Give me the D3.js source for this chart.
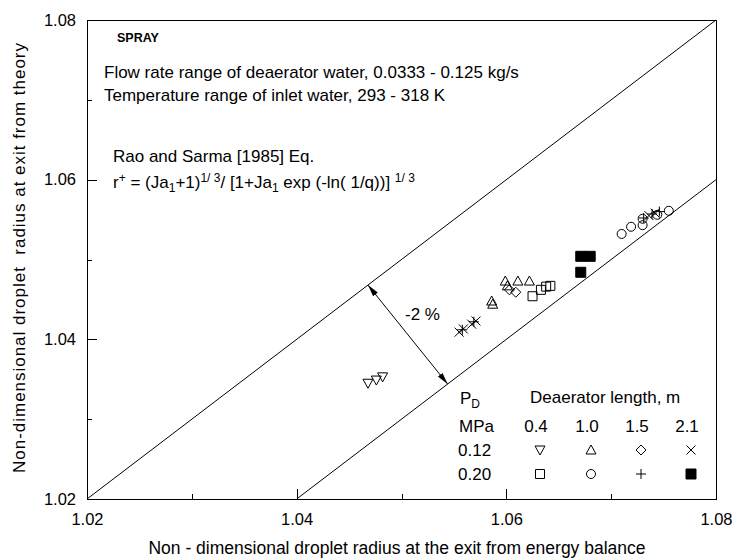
<!DOCTYPE html>
<html><head><meta charset="utf-8">
<script src="https://cdn.jsdelivr.net/npm/d3@7"></script>
<style>
body{margin:0;background:#fff}
svg{display:block}
text{font-family:"Liberation Sans",Arial,sans-serif;fill:#000}
</style></head><body>
<svg id="c" width="735" height="560"></svg>
<script>
// ---------- data ----------
const xTicks = [1.02, 1.04, 1.06, 1.08];
const yTicks = [1.02, 1.04, 1.06, 1.08];
const minorTicks = [1.03, 1.05, 1.07];
const lengths = ["0.4", "1.0", "1.5", "2.1"];
const pressures = ["0.12", "0.20"];
const markersP012 = ["triDown", "triUp", "diamond", "cross"];
const markersP020 = ["square", "circle", "plus", "filledSquare"];

// P = 0.12 MPa
const p012_L04 = [[1.0468, 1.0345], [1.0476, 1.0349], [1.0482, 1.0353]];
const p012_L10 = [[1.0586, 1.0448], [1.0587, 1.0444], [1.0599, 1.0473], [1.0601, 1.0467], [1.0611, 1.0473], [1.0622, 1.0473]];
const p012_L15 = [[1.0603, 1.0462], [1.0609, 1.0459]];
const p012_L21 = [[1.0555, 1.0409], [1.0559, 1.0413], [1.0567, 1.0419], [1.0571, 1.0423], [1.0736, 1.0555], [1.0742, 1.0558]];
// P = 0.20 MPa
const p020_L04 = [[1.0625, 1.0454], [1.0633, 1.0462], [1.0638, 1.0466], [1.0642, 1.0467]];
const p020_L10 = [[1.0710, 1.0532], [1.0719, 1.0541], [1.0730, 1.0543], [1.0730, 1.0551], [1.0744, 1.0556], [1.0755, 1.0561]];
const p020_L15 = [[1.0558, 1.0412], [1.0569, 1.0422], [1.0731, 1.0552], [1.0739, 1.0557], [1.0746, 1.0560]];
const p020_L21 = [[1.0671, 1.0504], [1.0680, 1.0504], [1.0671, 1.0484]];

const upperLine = [[1.02, 1.02], [1.08, 1.08]];      // y = x
const lowerLine = [[1.04, 1.02], [1.08, 1.06]];      // y = x - 0.02
const arrowPts = [[1.0468, 1.0468], [1.0544, 1.0344]];

// ---------- layout ----------
const svg = d3.select("#c");
const L = 87, R = 716, T = 20, B = 499;
const x = d3.scaleLinear().domain([1.02, 1.08]).range([L, R]);
const y = d3.scaleLinear().domain([1.02, 1.08]).range([B, T]);
const FS = 17;

// axes (ticks inside)
const fmt = d3.format(".2f");
const gx = svg.append("g").attr("transform", `translate(0,${B})`)
  .call(d3.axisBottom(x).tickValues(xTicks).tickFormat(fmt).tickSize(-10).tickPadding(13));
const gxm = svg.append("g").attr("transform", `translate(0,${B})`)
  .call(d3.axisBottom(x).tickValues(minorTicks).tickFormat("").tickSize(-5));
const gy = svg.append("g").attr("transform", `translate(${L},0)`)
  .call(d3.axisLeft(y).tickValues(yTicks).tickFormat(fmt).tickSize(-10).tickPadding(11));
const gym = svg.append("g").attr("transform", `translate(${L},0)`)
  .call(d3.axisLeft(y).tickValues(minorTicks).tickFormat("").tickSize(-5));
[gx, gxm, gy, gym].forEach(g => {
  g.select(".domain").remove();
  g.selectAll("line").attr("stroke", "#000").attr("shape-rendering", "crispEdges");
  g.selectAll("text").attr("font-size", 16.5).attr("font-family", '"Liberation Sans",Arial,sans-serif').attr("fill", "#000");
});
gx.selectAll("text").attr("dy", null).attr("y", 26);

// frame
svg.append("rect").attr("x", L + 0.5).attr("y", T + 0.5).attr("width", R - L).attr("height", B - T)
  .attr("fill", "none").attr("stroke", "#000").attr("stroke-width", 1).attr("shape-rendering", "crispEdges");

// reference lines
const line = d3.line().x(d => x(d[0])).y(d => y(d[1]));
[upperLine, lowerLine].forEach(l => svg.append("path").attr("d", line(l)).attr("fill", "none").attr("stroke", "#000").attr("stroke-width", 1));

// arrow
const defs = svg.append("defs");
defs.append("marker").attr("id", "ah").attr("viewBox", "0 0 12 6").attr("refX", 12).attr("refY", 3)
  .attr("markerWidth", 12).attr("markerHeight", 6).attr("markerUnits", "userSpaceOnUse").attr("orient", "auto-start-reverse")
  .append("path").attr("d", "M0,0 L12,3 L0,6 Z").attr("fill", "#000");
svg.append("path").attr("d", line(arrowPts)).attr("stroke", "#000").attr("stroke-width", 1)
  .attr("marker-start", "url(#ah)").attr("marker-end", "url(#ah)");
svg.append("text").attr("x", 405).attr("y", 320).attr("font-size", FS).text("-2 %");

// markers
function markerPath(type) {
  switch (type) {
    case "triDown": return "M-5,-4 L5,-4 L0,5 Z";
    case "triUp": return "M-5,4 L5,4 L0,-5 Z";
    case "diamond": return "M0,-5 L5,0 L0,5 L-5,0 Z";
    case "cross": return "M-4.5,-4.5 L4.5,4.5 M4.5,-4.5 L-4.5,4.5";
    case "square": return "M-4.5,-4.5 H4.5 V4.5 H-4.5 Z";
    case "circle": return "M4.5,0 A4.5,4.5 0 1,1 -4.5,0 A4.5,4.5 0 1,1 4.5,0 Z";
    case "plus": return "M-5,0 H5 M0,-5 V5";
    case "filledSquare": return "M-5,-5 H5 V5 H-5 Z";
  }
}
function drawMarkers(data, type) {
  svg.append("g").selectAll("path").data(data).join("path")
    .attr("transform", d => `translate(${x(d[0])},${y(d[1])})`)
    .attr("d", markerPath(type))
    .attr("fill", type === "filledSquare" ? "#000" : "none")
    .attr("stroke", "#000").attr("stroke-width", 1);
}
const seriesP012 = [p012_L04, p012_L10, p012_L15, p012_L21];
const seriesP020 = [p020_L04, p020_L10, p020_L15, p020_L21];
seriesP012.forEach((s, i) => drawMarkers(s, markersP012[i]));
seriesP020.forEach((s, i) => drawMarkers(s, markersP020[i]));

// annotation texts
svg.append("text").attr("x", 117).attr("y", 42).attr("font-size", 12.5).attr("font-weight", "bold").text("SPRAY");
svg.append("text").attr("x", 104).attr("y", 78).attr("font-size", FS).text("Flow rate range of deaerator water, 0.0333 - 0.125 kg/s");
svg.append("text").attr("x", 104).attr("y", 101).attr("font-size", FS).text("Temperature range of inlet water, 293 - 318 K");
svg.append("text").attr("x", 113).attr("y", 162).attr("font-size", FS).text("Rao and Sarma [1985] Eq.");

// formula with sub/superscripts
const parts = [["r", 0], ["+", -1], [" = (Ja", 0], ["1", 1], ["+1)", 0], ["1/ 3", -1], ["/ [1+Ja", 0], ["1", 1], [" exp (-ln( 1/q))] ", 0], ["1/ 3", -1]];
const ft = svg.append("text").attr("x", 113).attr("y", 188).attr("font-size", FS).style("white-space", "pre");
let cur = 0;
parts.forEach(([t, lvl]) => {
  const target = lvl === -1 ? -6 : lvl === 1 ? 4 : 0;
  ft.append("tspan").attr("dy", target - cur).attr("font-size", lvl === 0 ? FS : 12).text(t);
  cur = target;
});

// legend
const lg = svg.append("g");
const colX = [540, 591, 641, 691];
const pt = lg.append("text").attr("x", 460).attr("y", 404).attr("font-size", FS);
pt.append("tspan").text("P");
pt.append("tspan").attr("dy", 4).attr("font-size", 12).text("D");
lg.append("text").attr("x", 530).attr("y", 403).attr("font-size", FS).text("Deaerator length, m");
lg.append("text").attr("x", 459).attr("y", 432).attr("font-size", FS).text("MPa");
lengths.forEach((l, i) => lg.append("text").attr("x", colX[i] - 4).attr("y", 432).attr("text-anchor", "middle").attr("font-size", FS).text(l));
pressures.forEach((p, j) => lg.append("text").attr("x", 458).attr("y", 456 + j * 24).attr("font-size", FS).text(p));
[markersP012, markersP020].forEach((row, j) => row.forEach((m, i) => {
  lg.append("path").attr("transform", `translate(${colX[i]},${450 + j * 24})`).attr("d", markerPath(m))
    .attr("fill", m === "filledSquare" ? "#000" : "none").attr("stroke", "#000");
}));

// axis titles
svg.append("text").attr("x", 397).attr("y", 554).attr("text-anchor", "middle").attr("font-size", 17.5)
  .text("Non - dimensional droplet radius at the exit from energy balance");
svg.append("text").attr("transform", "translate(25,258) rotate(-90)").attr("text-anchor", "middle").attr("font-size", FS)
  .attr("textLength", 430).attr("lengthAdjust", "spacing")
  .style("white-space", "pre").text("Non-dimensional droplet  radius at exit from theory");
</script>
</body></html>
